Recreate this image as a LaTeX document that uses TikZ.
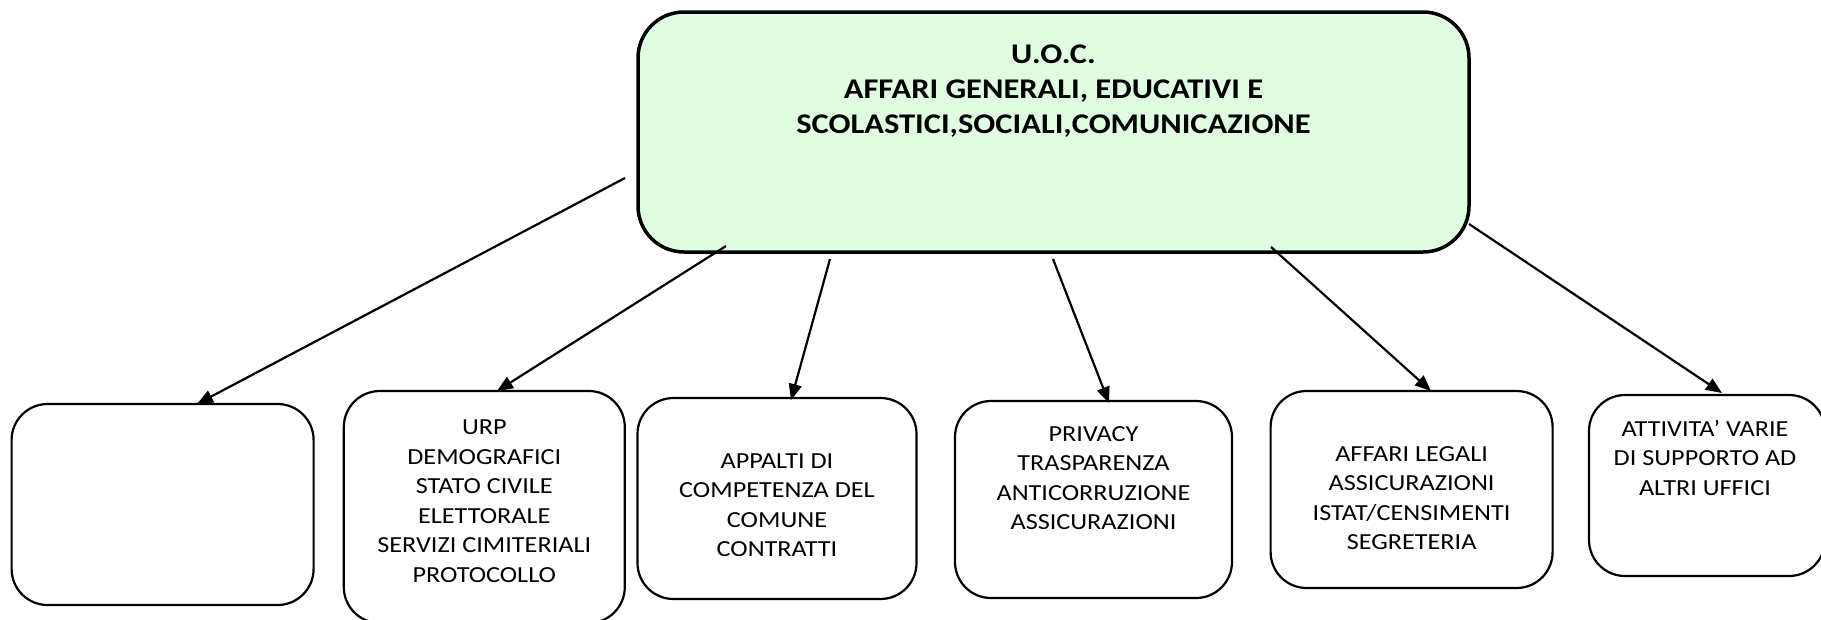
\documentclass[tikz,border=0pt]{standalone}
\usepackage{fontspec}
\setmainfont{Carlito}[FakeStretch=1.14]
\usetikzlibrary{arrows.meta}
\definecolor{topfill}{RGB}{225,253,225}
\tikzset{
  topbox/.style={draw=black, line width=3.5pt, fill=topfill, rounded corners=46pt, inner sep=0pt},
  box/.style={draw=black, line width=2.2pt, fill=white, rounded corners=36pt, inner sep=0pt},
  txt/.style={align=center, font=\fontsize{23}{29.5}\selectfont, inner sep=0pt},
  toptxt/.style={align=center, font=\fontsize{28.5}{35}\selectfont\bfseries, inner sep=0pt},
  arr/.style={line width=2.2pt, -{Triangle[length=16pt, width=13pt]}}
}
\begin{document}
\begin{tikzpicture}[x=1pt,y=-1pt]
\useasboundingbox (0,0) rectangle (1821,619);
% top box
\node[topbox, minimum width=831pt, minimum height=240pt] (top) at (1053.5,132) {};
\node[toptxt] (toptext) at (1053.5,91.5) {U.O.C.\\AFFARI GENERALI, EDUCATIVI E\\SCOLASTICI,SOCIALI,COMUNICAZIONE};
% bottom boxes
\node[box, minimum width=302pt, minimum height=201pt] (b1) at (162.6,504.5) {};
\node[box, minimum width=281pt, minimum height=232pt] (b2) at (484.3,507) {};
\node[box, minimum width=279pt, minimum height=201pt] (b3) at (777,498.5) {};
\node[box, minimum width=277pt, minimum height=197pt] (b4) at (1093.5,499.5) {};
\node[box, minimum width=282pt, minimum height=197pt] (b5) at (1411.6,489.5) {};
\node[box, minimum width=236pt, minimum height=181pt] (b6) at (1707,485.5) {};
% texts
\node[txt] (t2) at (484.3,501) {URP\\DEMOGRAFICI\\STATO CIVILE\\ELETTORALE\\SERVIZI CIMITERIALI\\PROTOCOLLO};
\node[txt] (t3) at (777,505) {APPALTI DI\\COMPETENZA DEL\\COMUNE\\CONTRATTI};
\node[txt] (t4) at (1093.5,478) {PRIVACY\\TRASPARENZA\\ANTICORRUZIONE\\ASSICURAZIONI};
\node[txt] (t5) at (1411.6,498) {AFFARI LEGALI\\ASSICURAZIONI\\ISTAT/CENSIMENTI\\SEGRETERIA};
\node[txt] (t6) at (1705,457.6) {ATTIVITA' VARIE\\DI SUPPORTO AD\\ALTRI UFFICI};
% connector end points
\coordinate (s1) at (625,178);
\coordinate (s2) at (726,246);
\coordinate (s3) at (830,259);
\coordinate (s4) at (1053,259);
\coordinate (s5) at (1271,247);
\coordinate (s6) at (1469,224);
\coordinate (e1) at (197,404);
\coordinate (e2) at (497,391);
\coordinate (e3) at (791,400);
\coordinate (e4) at (1109,403);
\coordinate (e5) at (1431,391);
\coordinate (e6) at (1722,393);
\draw[arr] (s1) -- (e1);
\draw[arr] (s2) -- (e2);
\draw[arr] (s3) -- (e3);
\draw[arr] (s4) -- (e4);
\draw[arr] (s5) -- (e5);
\draw[arr] (s6) -- (e6);
\end{tikzpicture}
\end{document}
